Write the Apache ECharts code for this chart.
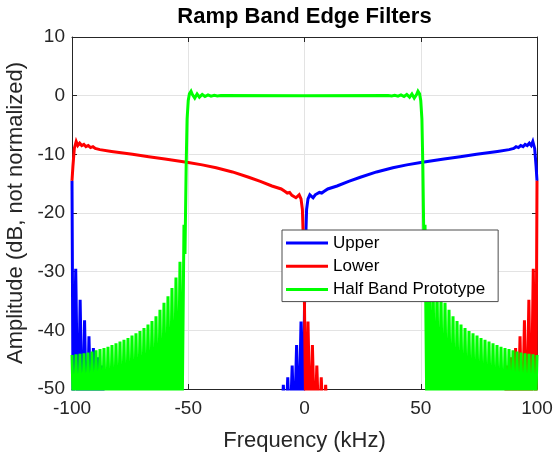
<!DOCTYPE html>
<html>
<head>
<meta charset="utf-8">
<title>Ramp Band Edge Filters</title>
<script src="https://cdn.jsdelivr.net/npm/echarts@6.0.0/dist/echarts.min.js"></script>
<style>
  html, body { margin: 0; padding: 0; background: #fff; }
  #chart { width: 553px; height: 456px; }
</style>
</head>
<body>
<div id="chart"></div>
<script>
// ---- chart text ----
const chartTitle = 'Ramp Band Edge Filters';
const xAxisTitle = 'Frequency (kHz)';
const yAxisTitle = 'Amplitude (dB, not normalized)';
const seriesNames = ['Upper', 'Lower', 'Half Band Prototype'];

// ---- axis ranges / tick steps ----
const freqRange = [-100, 100];
const freqStep = 50;
const ampRange = [-50, 10];
const ampStep = 10;

// ---- Upper ramp filter response: [frequency kHz, dB] ----
// stopband nulls dip below the -50 dB floor of the plot
const upperResponse = [
  [-100, -14.5], [-99.5, -58], [-98.4, -29.5], [-97.4, -58], [-96.5, -34.8],
  [-95.5, -58], [-94.6, -38.3], [-93.6, -58], [-92.7, -41.0], [-91.7, -58],
  [-90.8, -43.0], [-89.8, -58], [-88.9, -44.6], [-87.9, -58], [-87.0, -46.0],
  [-86.0, -58], [-10.1, -58], [-9.1, -49.3], [-8.2, -58], [-7.2, -48.0],
  [-6.3, -58], [-5.3, -46.0], [-4.4, -58], [-3.4, -42.5], [-2.5, -58],
  [-1.5, -38.5], [-0.6, -58], [0.0, -36], [0.4, -26], [0.9, -19.4],
  [1.5, -17.6], [2.3, -16.9], [3.0, -17.2], [3.7, -17.4], [4.6, -16.9],
  [5.4, -17.0], [6.4, -16.5], [7.4, -16.6], [8.5, -16.3], [10, -15.9],
  [14, -15.4], [19, -14.6], [24, -13.9], [31, -13.0], [38, -12.3],
  [44, -11.8], [50, -11.4], [60, -10.8], [67, -10.4], [74, -10.0],
  [83, -9.5], [88, -9.2], [90, -9.0], [91, -8.7], [92, -8.85],
  [93, -8.5], [94, -8.7], [94.9, -8.3], [95.8, -8.5], [96.7, -8.1],
  [97.5, -8.5], [98.2, -7.8], [99.0, -9.0], [99.6, -12], [100, -14.5]
];

// ---- Lower ramp filter response: [frequency kHz, dB] ----
const lowerResponse = [
  [-100, -14.5], [-99.6, -12], [-99.0, -9.0], [-98.2, -7.8], [-97.5, -8.5],
  [-96.7, -8.1], [-95.8, -8.5], [-94.9, -8.3], [-94, -8.7], [-93, -8.5],
  [-92, -8.85], [-91, -8.7], [-90, -9.0], [-88, -9.2], [-83, -9.5],
  [-74, -10.0], [-67, -10.4], [-60, -10.8], [-50, -11.4], [-44, -11.8],
  [-38, -12.3], [-31, -13.0], [-24, -13.9], [-19, -14.6], [-14, -15.4],
  [-10, -15.9], [-8.5, -16.3], [-7.4, -16.6], [-6.4, -16.5], [-5.4, -17.0],
  [-4.6, -16.9], [-3.7, -17.4], [-3.0, -17.2], [-2.3, -16.9], [-1.5, -17.6],
  [-0.9, -19.4], [-0.4, -26], [0.0, -36], [0.6, -58], [1.5, -38.5],
  [2.5, -58], [3.4, -42.5], [4.4, -58], [5.3, -46.0], [6.3, -58],
  [7.2, -48.0], [8.2, -58], [9.1, -49.3], [10.1, -58], [86.0, -58],
  [87.0, -46.0], [87.9, -58], [88.9, -44.6], [89.8, -58], [90.8, -43.0],
  [91.7, -58], [92.7, -41.0], [93.6, -58], [94.6, -38.3], [95.5, -58],
  [96.5, -34.8], [97.4, -58], [98.4, -29.5], [99.5, -58], [100, -14.5]
];

// ---- Half band prototype response: [frequency kHz, dB] ----
const halfBandLowerStop = [
  [-100, -44.2], [-99.14, -58], [-98.28, -44.1], [-97.42, -58], [-96.56, -44.0],
  [-95.7, -58], [-94.84, -43.9], [-93.98, -58], [-93.12, -43.8], [-92.26, -58],
  [-91.4, -43.6], [-90.54, -58], [-89.68, -43.4], [-88.82, -58], [-87.96, -43.2],
  [-87.1, -58], [-86.24, -43.0], [-85.38, -58], [-84.52, -42.8], [-83.66, -58],
  [-82.8, -42.5], [-81.94, -58], [-81.08, -42.2], [-80.22, -58], [-79.36, -41.9],
  [-78.5, -58], [-77.64, -41.6], [-76.78, -58], [-75.92, -41.3], [-75.06, -58],
  [-74.2, -40.9], [-73.34, -58], [-72.48, -40.5], [-71.62, -58], [-70.76, -40.1],
  [-69.9, -58], [-69.04, -39.6], [-68.18, -58], [-67.32, -39.0], [-66.46, -58],
  [-65.6, -38.4], [-64.74, -58], [-63.88, -37.6], [-63.02, -58], [-62.16, -36.5],
  [-61.3, -58], [-60.44, -35.3], [-59.58, -58], [-58.72, -34.2], [-57.86, -58],
  [-57.0, -32.8], [-56.14, -58], [-55.28, -31.0], [-54.42, -58], [-53.56, -28.3],
  [-52.7, -58], [-51.84, -22.0]
];
const halfBandPass = [
  [-51.4, -27], [-50.9, -12], [-50.5, -4], [-50.0, -0.8], [-49.5, 0.3],
  [-48.8, 0.75], [-48.2, 0.2], [-47.2, -0.4], [-46.2, 0.3], [-45.2, -0.25],
  [-44.0, 0.2], [-42.8, -0.15], [-41.5, 0.12], [-40.2, -0.08], [-38.8, 0.06],
  [-37.5, -0.04], [-36.0, 0.02], [0, 0], [36.0, 0.02], [37.5, -0.04],
  [38.8, 0.06], [40.2, -0.08], [41.5, 0.12], [42.8, -0.15], [44.0, 0.2],
  [45.2, -0.25], [46.2, 0.3], [47.2, -0.4], [48.2, 0.2], [48.8, 0.75],
  [49.5, 0.3], [50.0, -0.8], [50.5, -4], [50.9, -12], [51.4, -27]
];
const halfBandUpperStop = [
  [51.84, -22.0], [52.7, -58], [53.56, -28.3], [54.42, -58], [55.28, -31.0],
  [56.14, -58], [57.0, -32.8], [57.86, -58], [58.72, -34.2], [59.58, -58],
  [60.44, -35.3], [61.3, -58], [62.16, -36.5], [63.02, -58], [63.88, -37.6],
  [64.74, -58], [65.6, -38.4], [66.46, -58], [67.32, -39.0], [68.18, -58],
  [69.04, -39.6], [69.9, -58], [70.76, -40.1], [71.62, -58], [72.48, -40.5],
  [73.34, -58], [74.2, -40.9], [75.06, -58], [75.92, -41.3], [76.78, -58],
  [77.64, -41.6], [78.5, -58], [79.36, -41.9], [80.22, -58], [81.08, -42.2],
  [81.94, -58], [82.8, -42.5], [83.66, -58], [84.52, -42.8], [85.38, -58],
  [86.24, -43.0], [87.1, -58], [87.96, -43.2], [88.82, -58], [89.68, -43.4],
  [90.54, -58], [91.4, -43.6], [92.26, -58], [93.12, -43.8], [93.98, -58],
  [94.84, -43.9], [95.7, -58], [96.56, -44.0], [97.42, -58], [98.28, -44.1],
  [99.14, -58], [100, -44.2]
];

// ---- styling ----
const FONT = '"Liberation Sans", Arial, Helvetica, sans-serif';
const AXIS_COLOR = '#262626';
const GRID_COLOR = '#e3e3e3';
const seriesColors = ['#0000ff', '#ff0000', '#00ff00'];

const chart = echarts.init(document.getElementById('chart'), null, { renderer: 'canvas' });

const mainAxisCommon = {
  type: 'value',
  axisLine: { show: true, onZero: false, lineStyle: { color: AXIS_COLOR, width: 1 } },
  axisTick: { show: true, inside: true, length: 5, lineStyle: { color: AXIS_COLOR } },
  axisLabel: { color: AXIS_COLOR, fontFamily: FONT, fontSize: 19 },
  splitLine: { show: true, lineStyle: { color: GRID_COLOR, width: 1 } },
  nameLocation: 'middle',
  nameTextStyle: { color: AXIS_COLOR, fontFamily: FONT, fontSize: 22 }
};
const mirrorAxisCommon = {
  type: 'value',
  axisLine: { show: true, onZero: false, lineStyle: { color: AXIS_COLOR, width: 1 } },
  axisTick: { show: true, inside: true, length: 5, lineStyle: { color: AXIS_COLOR } },
  axisLabel: { show: false },
  splitLine: { show: false }
};

function lineSeries(name, data, color) {
  return {
    name: name,
    type: 'line',
    data: data,
    showSymbol: false,
    symbol: 'none',
    clip: true,
    color: color,
    lineStyle: { color: color, width: 3, join: 'miter' },
    emphasis: { disabled: true },
    silent: true
  };
}

const option = {
  animation: false,
  backgroundColor: '#ffffff',
  graphic: [{
    type: 'text',
    x: 304.5,
    y: 17,
    style: {
      text: chartTitle,
      fill: '#000000',
      font: 'bold 22px ' + FONT,
      align: 'center',
      verticalAlign: 'middle'
    }
  }],
  grid: {
    left: 72, top: 37, width: 465, height: 352,
    containLabel: false,
    outerBoundsMode: 'none'
  },
  legend: {
    orient: 'vertical',
    left: 282,
    top: 230,
    padding: [3, 13, 2, 4],
    itemWidth: 42,
    itemHeight: 3,
    itemGap: 3.3,
    icon: 'rect',
    backgroundColor: '#ffffff',
    borderColor: '#4d4d4d',
    borderWidth: 1,
    borderRadius: 0,
    selectedMode: false,
    textStyle: { color: '#000000', fontFamily: FONT, fontSize: 17, lineHeight: 20 },
    data: seriesNames
  },
  xAxis: [
    Object.assign({}, mainAxisCommon, {
      position: 'bottom',
      min: freqRange[0], max: freqRange[1], interval: freqStep,
      name: xAxisTitle, nameGap: 41,
      axisLabel: Object.assign({}, mainAxisCommon.axisLabel, { margin: 10 })
    }),
    Object.assign({}, mirrorAxisCommon, {
      position: 'top',
      min: freqRange[0], max: freqRange[1], interval: freqStep
    })
  ],
  yAxis: [
    Object.assign({}, mainAxisCommon, {
      position: 'left',
      min: ampRange[0], max: ampRange[1], interval: ampStep,
      name: yAxisTitle, nameGap: 32,
      axisLabel: Object.assign({}, mainAxisCommon.axisLabel, { margin: 7 })
    }),
    Object.assign({}, mirrorAxisCommon, {
      position: 'right',
      min: ampRange[0], max: ampRange[1], interval: ampStep
    })
  ],
  series: [
    lineSeries(seriesNames[0], upperResponse, seriesColors[0]),
    lineSeries(seriesNames[1], lowerResponse, seriesColors[1]),
    lineSeries(seriesNames[2], halfBandLowerStop.concat(halfBandPass, halfBandUpperStop), seriesColors[2])
  ]
};

chart.setOption(option);
</script>
</body>
</html>
